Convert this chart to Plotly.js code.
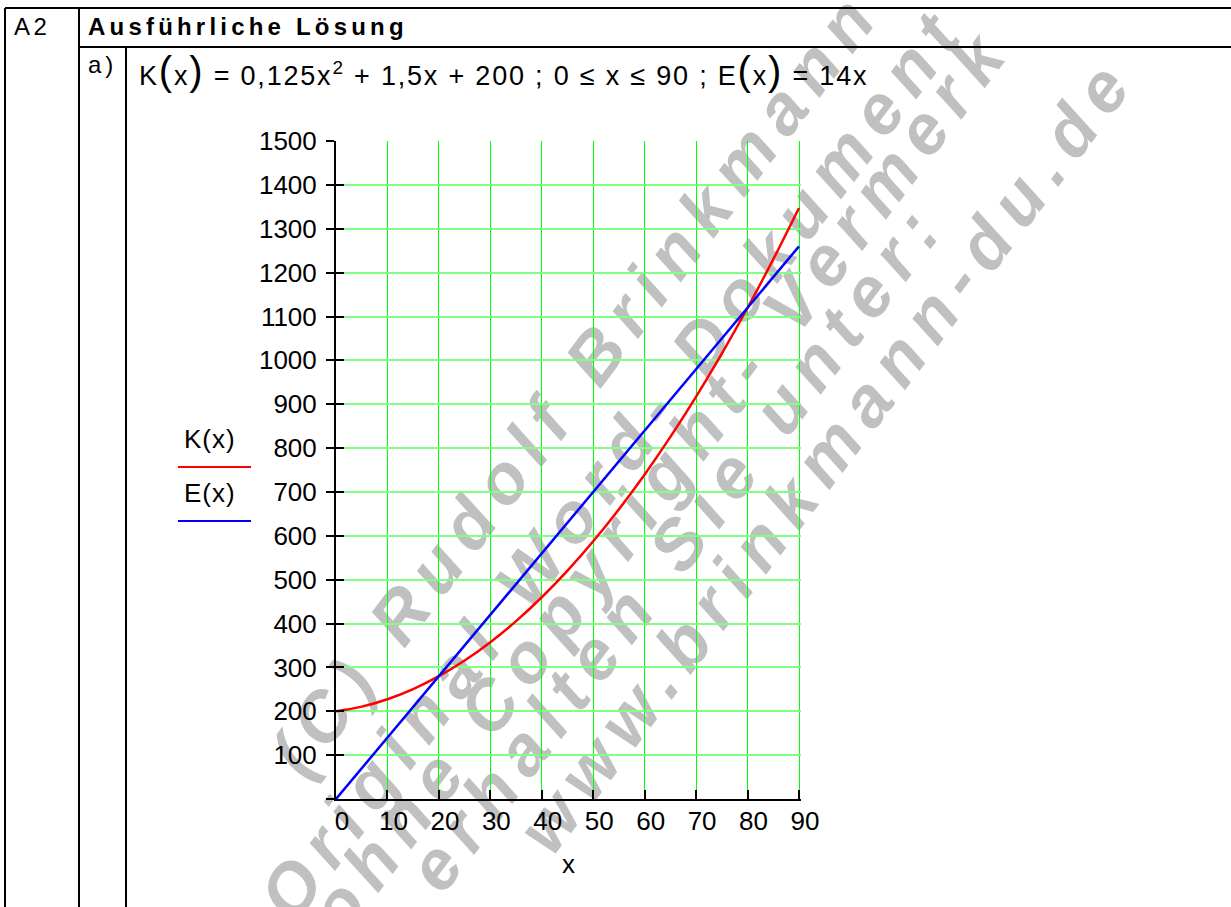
<!DOCTYPE html>
<html>
<head>
<meta charset="utf-8">
<script src="https://cdn.plot.ly/plotly-3.0.1.min.js"></script>
<style>
  html, body { margin: 0; padding: 0; background: #fff; }
  #chart { width: 1231px; height: 907px; }
  text[data-unformatted^="<b><i>"] { letter-spacing: 12px; }
  text[data-unformatted="A2"] { letter-spacing: 3.5px; }
  text[data-unformatted="a)"] { letter-spacing: 4px; }
  text[data-unformatted^="<b>Aus"] { letter-spacing: 4.2px; }
  text[data-unformatted^="K<span"] { letter-spacing: 1.8px; }
  text[data-unformatted="K(x)"], text[data-unformatted="E(x)"] { letter-spacing: 1px; }
</style>
</head>
<body>
<div id="chart"></div>
<script>
// ---- data ----
const xValues = [0, 5, 10, 15, 20, 25, 30, 35, 40, 45, 50, 55, 60, 65, 70, 75, 80, 85, 90];
const kValues = [200, 210.6, 227.5, 250.6, 280, 315.6, 357.5, 405.6, 460, 520.6, 587.5, 660.6, 740, 825.6, 917.5, 1015.6, 1120, 1230.6, 1347.5];
const eValues = [0, 70, 140, 210, 280, 350, 420, 490, 560, 630, 700, 770, 840, 910, 980, 1050, 1120, 1190, 1260];
const xTicks = [0, 10, 20, 30, 40, 50, 60, 70, 80, 90];
const yTicks = [0, 100, 200, 300, 400, 500, 600, 700, 800, 900, 1000, 1100, 1200, 1300, 1400, 1500];
const yTickLabels = ['', '100', '200', '300', '400', '500', '600', '700', '800', '900', '1000', '1100', '1200', '1300', '1400', '1500'];
const seriesNames = ['K(x)', 'E(x)'];
const headerCell = 'A2';
const headerTitle = 'Ausführliche Lösung';
const partLabel = 'a)';
const watermarkLines = ['(C) Rudolf Brinkmann', 'Original Word- Dokument', 'ohne Copyright- Vermerk', 'erhalten Sie unter:', 'www.brinkmann-du.de'];

// ---- page geometry ----
const W = 1231, H = 907, L = 336, X90 = 799, PR = 801, T = 141, B = 799;
const xMax = 90 * (PR - L) / (X90 - L);   // keep the 90 gridline just inside the plot area
const px = v => (v - L) / (PR - L);
const py = v => (B - v) / (B - T);
const FONT = 'Liberation Sans, Arial, Helvetica, sans-serif';

function hline(x0, x1, y, color, w) {
  return {type: 'line', xref: 'paper', yref: 'paper', x0: px(x0), x1: px(x1), y0: py(y), y1: py(y),
          line: {color: color, width: w}};
}
function vline(x, y0, y1, color, w) {
  return {type: 'line', xref: 'paper', yref: 'paper', x0: px(x), x1: px(x), y0: py(y0), y1: py(y1),
          line: {color: color, width: w}};
}
function note(text, x, y, size, xanchor) {
  return {text: text, xref: 'paper', yref: 'paper', x: px(x), y: py(y), showarrow: false,
          xanchor: xanchor || 'left', yanchor: 'middle', font: {family: FONT, size: size, color: '#000'}};
}

// watermark placement: rotated lines, positioned by the end of each line
const WM_ANGLE = 53, WM_SIZE = 70, WM_LS = 12;
const wmEnds = [[860, -7], [945, 10], [990, 30], [925, 205], [1115, 60]];
const dvec = [Math.cos(WM_ANGLE * Math.PI / 180), -Math.sin(WM_ANGLE * Math.PI / 180)];
const ctx = document.createElement('canvas').getContext('2d');
ctx.font = 'italic bold ' + WM_SIZE + 'px "Liberation Sans", Arial, sans-serif';
const wmShapes = watermarkLines.map((txt, i) => {
  const len = ctx.measureText(txt).width + WM_LS * txt.length;
  const cx = wmEnds[i][0] - dvec[0] * len / 2, cy = wmEnds[i][1] - dvec[1] * len / 2;
  return {type: 'rect', xref: 'paper', yref: 'paper', layer: 'below',
          x0: px(cx - 5), x1: px(cx + 5), y0: py(cy + 5), y1: py(cy - 5),
          line: {width: 0}, fillcolor: 'rgba(0,0,0,0)',
          label: {text: '<b><i>' + txt + '</i></b>', textangle: -WM_ANGLE, textposition: 'middle center',
                  font: {family: FONT, size: WM_SIZE, color: '#c0c0c0', weight: 'bold', style: 'italic'}}};
});

const P = s => '<span style="font-size:40px">' + s + '</span>';
const formula = 'K' + P('(') + 'x' + P(')') + ' = 0,125x<sup>2</sup> + 1,5x + 200 ; 0 ≤ x ≤ 90 ; E' + P('(') + 'x' + P(')') + ' = 14x';

const traces = [
  {x: xValues, y: kValues, name: seriesNames[0], type: 'scatter', mode: 'lines',
   line: {color: '#ff0000', width: 2.5, shape: 'spline'}, hoverinfo: 'skip'},
  {x: xValues, y: eValues, name: seriesNames[1], type: 'scatter', mode: 'lines',
   line: {color: '#0000ff', width: 2.5}, hoverinfo: 'skip'},
  {x: [], y: [], yaxis: 'y2', type: 'scatter', showlegend: false, hoverinfo: 'skip'}
];

const layout = {
  width: W, height: H,
  margin: {l: L, r: W - PR, t: T, b: H - B, pad: 0},
  paper_bgcolor: '#ffffff',
  plot_bgcolor: 'rgba(0,0,0,0)',
  showlegend: false,
  font: {family: FONT, size: 26, color: '#000'},
  xaxis: {
    range: [0, xMax], tickvals: xTicks, ticktext: xTicks.map(String),
    ticks: 'inside', ticklen: 9, tickwidth: 2, tickcolor: '#000',
    showline: true, linecolor: '#000', linewidth: 2, zeroline: false,
    showgrid: true, gridcolor: '#00ff00', gridwidth: 1,
    ticklabelshift: 6, ticklabelstandoff: -2,
    tickfont: {family: FONT, size: 26, color: '#000'},
    title: {text: 'x', standoff: 20, font: {family: FONT, size: 26, color: '#000'}},
    fixedrange: true
  },
  yaxis: {
    range: [0, 1500.2], tickvals: yTicks, ticktext: yTickLabels,
    ticks: 'outside', ticklen: 8, tickwidth: 2, tickcolor: '#000',
    showline: true, linecolor: '#000', linewidth: 2, zeroline: false,
    showgrid: true, gridcolor: '#80ff80', gridwidth: 2,
    ticklabelstandoff: 4,
    tickfont: {family: FONT, size: 26, color: '#000'},
    fixedrange: true
  },
  yaxis2: {
    overlaying: 'y', side: 'left', anchor: 'x', range: [0, 1500.2], tickvals: yTicks,
    ticks: 'inside', ticklen: 8, tickwidth: 2, tickcolor: '#000',
    showticklabels: false, showgrid: false, showline: false, zeroline: false, fixedrange: true
  },
  shapes: wmShapes.concat([
    hline(5, 1231, 8, '#000', 2),
    vline(5, 8, 907, '#000', 2),
    vline(79, 8, 907, '#000', 2),
    hline(79, 1231, 47, '#000', 2),
    vline(126, 47, 907, '#000', 2),
    hline(178, 251, 467, '#ff0000', 2),
    hline(178, 251, 521, '#0000ff', 2)
  ]),
  annotations: [
    note(headerCell, 12, 26, 24),
    note('<b>' + headerTitle + '</b>', 86, 27, 24),
    note(partLabel, 86, 64, 24),
    note(formula, 137, 71, 27),
    note(seriesNames[0], 210, 439, 26, 'center'),
    note(seriesNames[1], 210, 493, 26, 'center')
  ]
};

Plotly.newPlot('chart', traces, layout, {staticPlot: true, displayModeBar: false});
</script>
</body>
</html>
